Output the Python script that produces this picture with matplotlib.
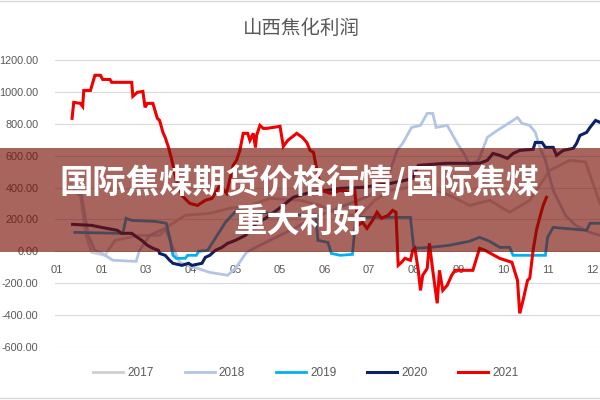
import matplotlib
matplotlib.use('Agg')
import matplotlib.pyplot as plt
from matplotlib.patches import Rectangle
from matplotlib.lines import Line2D
from matplotlib.ticker import FuncFormatter

plt.rcParams['font.family'] = ['DejaVu Sans', 'Noto Sans CJK SC']

title = '山西焦化利润'
banner_top = '国际焦煤期货价格行情/国际焦煤'
banner_bottom = '重大利好'

# x axis: weeks, a label every 4 weeks
tick_weeks = [0, 4, 8, 12, 16, 20, 24, 28, 32, 36, 40, 44, 48]
tick_labels = ['01', '01', '03', '04', '05', '05', '06', '07', '08', '09', '10', '11', '12']
y_ticks = [-600, -400, -200, 0, 200, 400, 600, 800, 1000, 1200]

# 焦化利润 (元/吨)
wk_2017 = [1.5, 2.1, 2.6, 3.1, 4.3, 5.2, 7.4, 9.2, 10.1, 11.5, 13.7, 15.5, 17.3, 19.1,
           21.8, 23.6, 25.4, 27.2, 28.5, 29.9, 32.6, 35.2, 37.0, 38.8, 40.6, 42.4,
           44.2, 46.0, 47.4, 48.7]
v_2017 = [382, 351, 100, -6, -25, 69, 100, 100, 163, 226, 238, 270, 288, 332,
          320, 288, 226, 226, 320, 382, 414, 351, 288, 320, 245, 320,
          508, 571, 560, 300]

wk_2018 = [1.6, 2.2, 2.8, 3.4, 3.9, 5.0, 7.1, 7.4, 8.3, 9.7, 10.3, 11.0, 12.6, 13.7,
           15.3, 16.0, 17.0, 18.2, 20.0, 21.8, 23.6, 25.8, 28.1, 29.9, 30.5, 31.0,
           31.8, 32.6, 33.2, 33.7, 34.0, 35.0, 35.4, 35.9, 36.6, 37.0, 37.8, 38.6,
           39.5, 40.2, 40.9, 41.3, 41.7, 42.4, 42.9, 43.3, 43.8, 44.5, 45.6, 46.5,
           47.8, 48.7]
v_2018 = [370, 351, 100, 6, -6, -56, -63, 6, 100, 144, 38, -69, -107, -132,
          -150, -107, -6, 38, 100, 163, 226, 288, 351, 508, 633, 677,
          777, 790, 865, 865, 777, 790, 740, 677, 602, 539, 571, 715,
          759, 790, 821, 840, 803, 790, 746, 652, 571, 382, 226, 163,
          119, 100]

wk_2019 = [1.6, 5.4, 5.9, 6.2, 6.7, 8.8, 9.8, 10.1, 10.4, 10.7, 11.5, 11.7, 12.5,
           12.7, 13.5, 14.2, 15.1, 16.1, 18.2, 20.9, 23.2, 23.4, 24.3, 24.6, 25.4,
           26.5, 26.8, 31.7, 32.0, 33.5, 35.2, 37.0, 37.9, 38.8, 39.7, 40.6, 40.9,
           43.8, 44.0, 44.5, 47.5, 47.8, 48.7]
v_2019 = [119, 113, 113, 207, 194, 188, 176, 88, -25, -44, -44, -25, -25,
          0, 6, 82, 182, 257, 245, 226, 232, 69, 56, -13, -25,
          -19, 213, 213, 19, 25, 38, 63, 88, 63, 25, 25, -25,
          -25, 88, 150, 132, 176, 176]

wk_2020 = [1.4, 3.1, 4.0, 5.4, 5.8, 6.7, 7.2, 7.6, 8.1, 8.6, 9.1, 9.2, 9.7, 10.1,
           10.4, 11.2, 11.8, 12.1, 13.0, 13.3, 13.7, 14.2, 14.8, 15.3, 16.0, 16.9,
           17.9, 18.7, 19.7, 20.5, 21.2, 22.4, 24.2, 25.4, 27.4, 29.9, 31.2, 31.9,
           32.4, 34.8, 37.9, 38.6, 39.1, 39.7, 40.4, 40.9, 41.5, 42.7, 42.9, 43.5,
           43.8, 44.5, 44.8, 45.4, 46.3, 46.6, 46.9, 47.5, 47.8, 48.3, 48.7]
v_2020 = [169, 163, 150, 132, 113, 113, 88, 69, 38, 19, 6, -13, -25, -56,
          -75, -88, -75, -88, -75, -38, -25, 6, 25, 50, 69, 100,
          176, 207, 257, 301, 339, 364, 382, 395, 401, 426, 445, 458,
          539, 552, 552, 571, 614, 602, 583, 614, 633, 640, 683, 683,
          652, 652, 602, 633, 646, 677, 727, 746, 777, 821, 809]

wk_2021 = [1.35, 1.5, 2.1, 2.3, 2.4, 3.0, 3.4, 3.9, 4.1, 4.75, 4.9, 6.7, 6.8, 7.2,
           7.7, 7.9, 8.1, 8.6, 9.0, 9.2, 9.5, 9.7, 10.0, 10.3, 10.7, 11.2, 11.9,
           12.6, 13.3, 13.9, 14.6, 15.2, 15.8, 16.1, 16.4, 16.7, 17.1, 17.3, 17.6,
           17.8, 17.9, 18.2, 18.5, 18.8, 20.0, 20.3, 20.7, 21.5, 22.0, 22.4, 22.7,
           23.0, 23.4, 23.8, 24.5, 25.4, 26.3, 26.7, 27.0, 27.4, 27.8, 28.3, 28.7,
           29.1, 29.7, 30.1, 30.4, 30.6, 30.9, 31.2, 31.7, 31.9, 32.1, 32.4, 32.6,
           32.8, 33.2, 33.4, 33.7, 34.1, 34.3, 34.6, 35.0, 35.4, 35.7, 37.3, 37.9,
           38.4, 39.7, 40.8, 41.3, 41.5, 41.8, 42.2, 42.4, 42.7, 43.0, 43.3, 43.6,
           43.9]
v_2021 = [834, 934, 928, 909, 1009, 1009, 1104, 1104, 1078, 1078, 1060, 1060, 972, 997,
          1003, 903, 928, 928, 834, 821, 746, 715, 652, 571, 445, 351, 301,
          288, 320, 332, 414, 364, 539, 571, 633, 740, 740, 696, 740,
          652, 727, 790, 771, 771, 784, 658, 696, 740, 715, 683, 633,
          621, 476, 382, 364, 382, 370, 382, 163, 182, 144, 194, 245,
          207, 226, 257, 245, -88, -69, -44, -56, 6, 19, -119, -245,
          -150, -107, 50, -119, -326, -119, -245, -213, -150, -119, -119, 19,
          6, -44, -69, -182, -389, -307, -182, -169, 6, 132, 213, 288,
          339]

series = [
    ('2017', wk_2017, v_2017, '#CFCFCF', 2.0),
    ('2018', wk_2018, v_2018, '#B4C4E4', 2.0),
    ('2019', wk_2019, v_2019, '#00B0F0', 2.0),
    ('2020', wk_2020, v_2020, '#0B2264', 2.2),
    ('2021', wk_2021, v_2021, '#F00000', 2.2),
]

label_font = 'Liberation Sans'

fig = plt.figure(figsize=(6, 4), dpi=100)
ax = fig.add_axes([55 / 600, 53 / 400, 545 / 600, 287 / 400])

for name, xs, ys, color, lw in series:
    ax.plot(xs, ys, color=color, lw=lw, label=name, solid_joinstyle='miter')

ax.set_xlim(-0.18, 48.7)
ax.set_ylim(-600, 1200)
ax.set_yticks(y_ticks)
ax.yaxis.set_major_formatter(FuncFormatter(lambda v, p: f'{v:.2f}'))
ax.set_xticks(tick_weeks)
ax.set_xticklabels(tick_labels)
ax.grid(axis='y', color='#D9D9D9', lw=0.8)
ax.set_axisbelow(True)

for side in ['top', 'right', 'left']:
    ax.spines[side].set_visible(False)
ax.spines['bottom'].set_position(('data', 0))
ax.spines['bottom'].set_color('none')
ax.tick_params(axis='x', length=0, pad=10, labelsize=8, labelcolor='#595959')
ax.tick_params(axis='y', length=0, pad=12, labelsize=7.8, labelcolor='#595959')
for lab in ax.get_xticklabels() + ax.get_yticklabels():
    lab.set_fontfamily(label_font)

fig.text(0.502, 0.93, title, ha='center', va='center', fontsize=14,
         color='#595959', family=['Noto Sans CJK SC', 'DejaVu Sans'])

fig.legend(loc='center', bbox_to_anchor=(0.51, 0.0675), ncol=5, frameon=False,
           prop={'family': label_font, 'size': 8.5}, handlelength=2.55,
           handletextpad=0.35, columnspacing=2.6, labelcolor='#595959')

# frame lines of the chart area
fig.add_artist(Line2D([0, 1], [0.997, 0.997], color='#D9D9D9', lw=1, transform=fig.transFigure))
fig.add_artist(Line2D([0, 1], [0.004, 0.004], color='#D9D9D9', lw=1, transform=fig.transFigure))

# overlay banner
fig.add_artist(Rectangle((0, 0.37), 1, 0.26, transform=fig.transFigure,
                         facecolor=(118 / 255, 14 / 255, 4 / 255), alpha=0.64,
                         edgecolor='none', zorder=5))
fig.text(0.5, 0.5425, banner_top, ha='center', va='center', fontsize=24,
         fontweight='bold', color='white', zorder=6,
         family=['Noto Sans CJK SC', 'DejaVu Sans'])
fig.text(0.5, 0.445, banner_bottom, ha='center', va='center', fontsize=24,
         fontweight='bold', color='white', zorder=6,
         family=['Noto Sans CJK SC', 'DejaVu Sans'])

fig.savefig('out.png', dpi=100)
